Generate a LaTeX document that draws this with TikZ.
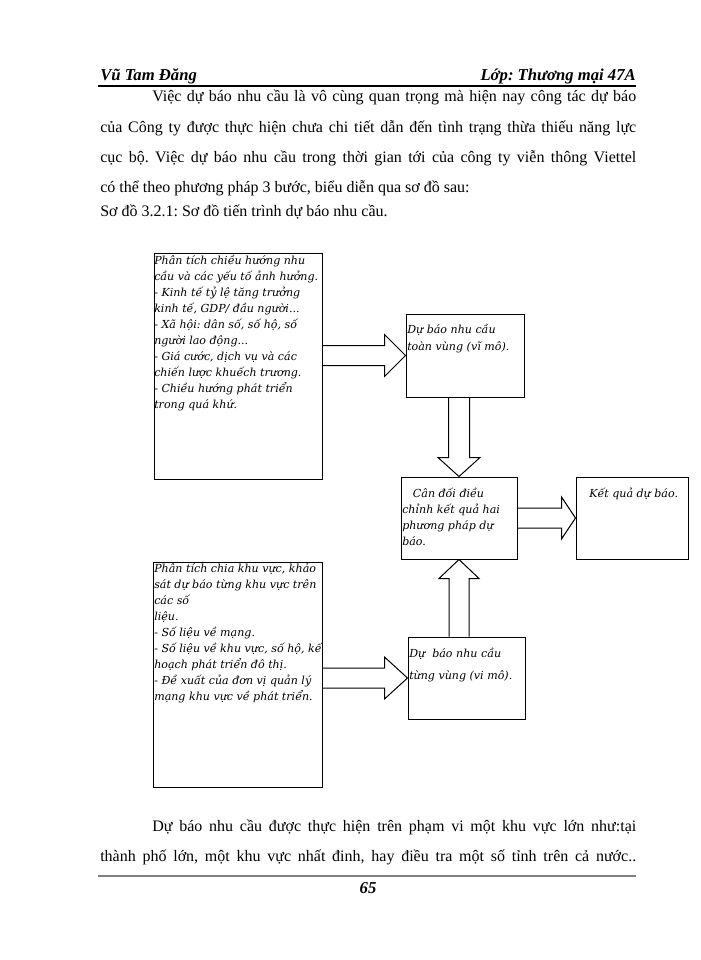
\documentclass[tikz,border=0pt]{standalone}
\usepackage{fontspec}
\setmainfont{Liberation Serif}
\newfontfamily\boxfont{DejaVu Serif}
\usepackage{tikz}
\usetikzlibrary{calc}
\newdimen\unitsize
\setlength{\unitsize}{0.75pt}
\newcommand{\boxlines}[1]{\begin{tabular}[t]{@{}l@{}}#1\end{tabular}}
\frenchspacing

\begin{document}
\begin{tikzpicture}[x=\unitsize,y=-\unitsize]
\tikzset{box/.style={draw, line width=0.75pt, inner sep=0pt}}%
\tikzset{boxtext/.style={anchor=base west, inner sep=0pt, font=\boxfont\itshape\fontsize{8.3}{#1}\selectfont}, boxtext/.default=12}%
\tikzset{textline/.style={anchor=base west, inner sep=0pt, font=\fontsize{12}{14}\selectfont}}%
\tikzset{headline/.style={inner sep=0pt, font=\bfseries\itshape\fontsize{12.5}{15}\selectfont}}%
\tikzset{harrow/.style={line width=0.75pt, to path={let \p1=(\tikztostart), \p2=(\tikztotarget) in
  (\x1,\y2+10*\unitsize) -- (\x2-#1*\unitsize,\y2+10*\unitsize) -- (\x2-#1*\unitsize,\y2+21*\unitsize) -- (\x2,\y2)
  -- (\x2-#1*\unitsize,\y2-21*\unitsize) -- (\x2-#1*\unitsize,\y2-10*\unitsize) -- (\x1,\y2-10*\unitsize)}}, harrow/.default=21}%
\tikzset{darrow/.style={line width=0.75pt, to path={let \p1=(\tikztostart), \p2=(\tikztotarget) in
  (\x2-10.5*\unitsize,\y1) -- (\x2-10.5*\unitsize,\y2+19*\unitsize) -- (\x2-21*\unitsize,\y2+19*\unitsize) -- (\x2,\y2)
  -- (\x2+21*\unitsize,\y2+19*\unitsize) -- (\x2+10.5*\unitsize,\y2+19*\unitsize) -- (\x2+10.5*\unitsize,\y1)}}}%
\tikzset{uarrow/.style={line width=0.75pt, to path={let \p1=(\tikztostart), \p2=(\tikztotarget) in
  (\x2-10*\unitsize,\y1) -- (\x2-10*\unitsize,\y2-19*\unitsize) -- (\x2-20*\unitsize,\y2-19*\unitsize) -- (\x2,\y2)
  -- (\x2+20*\unitsize,\y2-19*\unitsize) -- (\x2+10*\unitsize,\y2-19*\unitsize) -- (\x2+10*\unitsize,\y1)}}}%
\useasboundingbox (0,0) rectangle (700,960);
% header
\node[headline, anchor=base west] (author) at (100,80) {Vũ Tam Đăng};
\node[headline, anchor=base east] (class) at (636,80) {Lớp: Thương mại 47A};
\draw[line width=1.5pt] (98,86) -- (636,86);
% text above the diagram
\node[textline] (p1) at (152,101) {\makebox[484\unitsize][s]{Việc dự báo nhu cầu là vô cùng quan trọng mà hiện nay công tác dự báo}};
\node[textline] (p2) at (100,132) {\makebox[536\unitsize][s]{của Công ty được thực hiện chưa chi tiết dẫn đến tình trạng thừa thiếu năng lực}};
\node[textline] (p3) at (100,162) {\makebox[536\unitsize][s]{cục bộ. Việc dự báo nhu cầu trong thời gian tới của công ty viễn thông Viettel}};
\node[textline] (p4) at (100,192) {có thể theo phương pháp 3 bước, biểu diễn qua sơ đồ sau:};
\node[textline] (p5) at (100,216) {Sơ đồ 3.2.1: Sơ đồ tiến trình dự báo nhu cầu.};
% boxes
\node[box, minimum width=168\unitsize, minimum height=226\unitsize] (trend) at (238,366) {};
\node[box, minimum width=118\unitsize, minimum height=83\unitsize] (macro) at (465,355.5) {};
\node[box, minimum width=116\unitsize, minimum height=82\unitsize] (balance) at (459,518) {};
\node[box, minimum width=112\unitsize, minimum height=82\unitsize] (result) at (632,518) {};
\node[box, minimum width=169\unitsize, minimum height=225\unitsize] (area) at (237.5,674.5) {};
\node[box, minimum width=117\unitsize, minimum height=82\unitsize] (micro) at (466.5,678) {};
% texts in the boxes
\node[boxtext] (trendtext) at (154,264) {\boxlines{Phân tích chiều hướng nhu\\cầu và các yếu tố ảnh hưởng.\\- Kinh tế tỷ lệ tăng trưởng\\kinh tế, GDP/ đầu người...\\- Xã hội: dân số, số hộ, số\\người lao động...\\- Giá cước, dịch vụ và các\\chiến lược khuếch trương.\\- Chiều hướng phát triển\\trong quá khứ.}};
\node[boxtext=13] (macrotext) at (407,333) {\boxlines{Dự báo nhu cầu\\toàn vùng (vĩ mô).}};
\node[boxtext] (balancetext) at (402,497) {\boxlines{\hspace{8pt}Cân đối điều\\chỉnh kết quả hai\\phương pháp dự\\báo.}};
\node[boxtext] (resulttext) at (589,497) {Kết quả dự báo.};
\node[boxtext] (areatext) at (154,572) {\boxlines{Phân tích chia khu vực, khảo\\sát dự báo từng khu vực trên\\các số\\liệu.\\- Số liệu về mạng.\\- Số liệu về khu vực, số hộ, kế\\hoạch phát triển đô thị.\\- Đề xuất của đơn vị quản lý\\mạng khu vực về phát triển.}};
\node[boxtext=16.5] (microtext) at (409,657) {\boxlines{Dự \ báo nhu cầu\\từng vùng (vi mô).}};
% block arrows
\draw[harrow] (trend.east) to (macro.west);
\draw[darrow] (macro.south) to (balance.north);
\draw[harrow=14] (balance.east) to (result.west);
\draw[harrow=23] (area.east) to (micro.west);
\draw[uarrow] (micro.north) to (balance.south);
% text below the diagram
\node[textline] (q1) at (152,831) {\makebox[484\unitsize][s]{Dự báo nhu cầu được thực hiện trên phạm vi một khu vực lớn như:tại}};
\node[textline] (q2) at (100,861) {\makebox[536\unitsize][s]{thành phố lớn, một khu vực nhất đinh, hay điều tra một số tỉnh trên cả nước..}};
\draw[gray, line width=1.5pt] (98,876) -- (636,876);
\node[headline, anchor=base] (page) at (368,893) {65};
\end{tikzpicture}
\end{document}
